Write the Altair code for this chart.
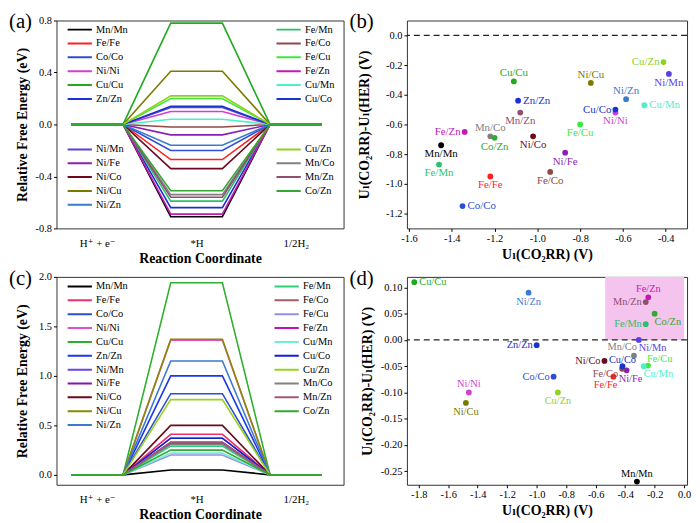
import json
import altair as alt
import pandas as pd

# ---------------- data ----------------
names = ["Mn/Mn", "Fe/Fe", "Co/Co", "Ni/Ni", "Cu/Cu", "Zn/Zn", "Ni/Mn", "Ni/Fe", "Ni/Co", "Ni/Cu", "Ni/Zn",
         "Fe/Mn", "Fe/Co", "Fe/Cu", "Fe/Zn", "Cu/Mn", "Cu/Co", "Cu/Zn", "Mn/Co", "Mn/Zn", "Co/Zn"]

colors_a = ["#000000", "#ff1f1f", "#2a4fd6", "#d23fd2", "#1faa1f", "#1c2fd0", "#5b3fe0", "#8a1fb8", "#6b0a1e",
            "#7a7a00", "#3a7ad0", "#2fbf6a", "#8f4848", "#3fe83f", "#c41ab0", "#4ff0c8", "#1a33cc", "#8fd21f",
            "#808080", "#8f4f6f", "#33a833"]
colors_c = ["#000000", "#f0306a", "#2a4fd6", "#e050c8", "#2fb02f", "#1c36f0", "#6a45e0", "#8a10b0", "#6b0a1e",
            "#8a8a00", "#3a7ad0", "#2fcf7a", "#a06060", "#9090e8", "#c010c0", "#6ff0d0", "#1020e0", "#9ad21f",
            "#808080", "#a05878", "#33a833"]

# (a) free energy of *H (eV)
dg_a = [-0.71, -0.27, -0.20, 0.10, 0.78, -0.64, 0.13, -0.08, -0.34, 0.41, -0.16,
        -0.59, -0.02, 0.20, -0.69, 0.04, 0.14, 0.22, -0.54, -0.56, -0.51]
# (c) free energy of *H (eV)
dg_c = [0.05, 0.41, 0.82, 1.36, 1.94, 1.00, 0.31, 0.33, 0.50, 1.37, 1.15,
        0.29, 0.37, 0.20, 0.32, 0.22, 0.37, 0.76, 0.31, 0.33, 0.25]

# (b) scatter
b_x = [-1.45, -1.22, -1.35, -0.635, -1.11, -1.09, -0.385, -0.87, -1.02, -0.75, -0.585,
       -1.46, -0.94, -0.80, -1.34, -0.50, -0.635, -0.41, -1.22, -1.08, -1.20]
b_y = [-0.74, -0.95, -1.15, -0.52, -0.31, -0.44, -0.26, -0.79, -0.68, -0.32, -0.43,
       -0.87, -0.92, -0.60, -0.65, -0.47, -0.50, -0.18, -0.68, -0.52, -0.69]

# (d) scatter
d_x = [-0.32, -0.48, -0.885, -1.46, -1.83, -1.00, -0.307, -0.39, -0.54, -1.48, -1.055,
       -0.26, -0.42, -0.245, -0.243, -0.274, -0.418, -0.856, -0.34, -0.26, -0.20]
d_y = [-0.27, -0.07, -0.07, -0.10, 0.11, -0.01, 0.0, -0.058, -0.04, -0.12, 0.09,
       0.03, -0.055, -0.049, 0.081, -0.05, -0.05, -0.10, -0.03, 0.072, 0.05]

stages = [1, 2, 3]
stage_labels = ["H⁺ + e⁻", "*H", "1/2H₂"]

a_ticks_y = [-0.8, -0.4, 0.0, 0.4, 0.8]
c_ticks_y = [0.0, 0.5, 1.0, 1.5, 2.0]
b_ticks_x = [-1.6, -1.4, -1.2, -1.0, -0.8, -0.6, -0.4]
b_ticks_y = [0.0, -0.2, -0.4, -0.6, -0.8, -1.0, -1.2]
d_ticks_x = [-1.8, -1.6, -1.4, -1.2, -1.0, -0.8, -0.6, -0.4, -0.2, 0.0]
d_ticks_y = [0.10, 0.05, 0.00, -0.05, -0.10, -0.15, -0.20, -0.25]

highlight_x = [-0.535, 0.0]
highlight_y = [0.0, 0.12]

b_place = {
    "above": ["Cu/Cu", "Mn/Co", "Ni/Cu", "Ni/Zn"],
    "below": ["Mn/Zn", "Co/Zn", "Mn/Mn", "Fe/Mn", "Fe/Fe", "Ni/Co", "Ni/Fe", "Fe/Co", "Fe/Cu", "Ni/Ni", "Ni/Mn"],
    "right": ["Zn/Zn", "Co/Co", "Cu/Mn"],
    "left": ["Fe/Zn", "Cu/Co", "Cu/Zn"],
}
d_place = {
    "above": ["Ni/Ni", "Mn/Mn", "Fe/Zn"],
    "abovelow": ["Cu/Co"],
    "below": ["Ni/Zn", "Ni/Cu", "Cu/Zn"],
    "left": ["Zn/Zn", "Co/Co", "Mn/Zn", "Fe/Mn", "Ni/Co"],
    "leftlow": ["Fe/Co"],
    "right": ["Cu/Cu"],
    "rightbelow": ["Co/Zn", "Ni/Mn", "Cu/Mn"],
    "below2": ["Ni/Fe"],
    "rightabove": ["Fe/Cu"],
    "aboveleft": ["Mn/Co"],
    "belowleft": ["Fe/Fe"],
}

# ---------------- style ----------------
FONT = "Times New Roman, Liberation Serif, DejaVu Serif, serif"
HALF = 0.26
offsets = {
    "above": (0, -8, "center"),
    "abovelow": (0, -6, "center"),
    "below": (0, 9, "center"),
    "below2": (4, 9, "center"),
    "right": (5, 0, "left"),
    "left": (-4, 0, "right"),
    "leftlow": (-4, 5, "right"),
    "rightbelow": (0, 8, "left"),
    "rightabove": (-1, -7, "left"),
    "aboveleft": (3, -9, "right"),
    "belowleft": (4, 8, "right"),
}
MINUS = "replace(datum.label, '\u2212', '-')"


def energy_rows(values):
    rows = []
    for n, g in zip(names, values):
        k = 0
        for s, yv in zip(stages, [0.0, g, 0.0]):
            for side in (-HALF, HALF):
                rows.append({"name": n, "x": s + side, "y": yv, "k": k})
                k += 1
    return pd.DataFrame(rows)


stage_expr = " : ".join(
    f"datum.value == {s} ? {json.dumps(l, ensure_ascii=False)}" for s, l in zip(stages[:-1], stage_labels[:-1])
) + " : " + json.dumps(stage_labels[-1], ensure_ascii=False)


def tag_layer(tag, x):
    return alt.Chart(pd.DataFrame({"t": [tag]})).mark_text(
        font=FONT, fontSize=21, align="left", baseline="top", color="black"
    ).encode(x=alt.value(x), y=alt.value(-9), text="t:N")


def energy_panel(values, colors, groups, ydom, yticks, fmt, tag):
    df = energy_rows(values)
    cmap = dict(zip(names, colors))
    x_enc = alt.X("x:Q", scale=alt.Scale(domain=[0.59, 3.48], nice=False, zero=False),
                  axis=alt.Axis(values=stages, labelExpr=stage_expr, ticks=False, tickSize=0,
                                labelPadding=9, labelFontSize=11, title="Reaction Coordinate",
                                titlePadding=3, titleFontSize=14))
    y_enc = alt.Y("y:Q", scale=alt.Scale(domain=ydom, nice=False, zero=False),
                  axis=alt.Axis(values=yticks, format=fmt, labelExpr=MINUS,
                                title="Relative Free Energy (eV)", minExtent=22, maxExtent=22,
                                titlePadding=5))
    layers = []
    for members, lx, ly in groups:
        sub = df[df["name"].isin(members)]
        layers.append(alt.Chart(sub).mark_line(strokeWidth=1.6).encode(
            x=x_enc, y=y_enc,
            color=alt.Color("name:N",
                            scale=alt.Scale(domain=members, range=[cmap[m] for m in members]),
                            legend=alt.Legend(orient="none", legendX=lx, legendY=ly, title=None,
                                              symbolType="stroke", symbolSize=600, symbolStrokeWidth=2,
                                              clipHeight=13.4, rowPadding=0, padding=0, labelOffset=3,
                                              labelFont=FONT, labelFontSize=10.5, labelColor="black",
                                              direction="vertical")),
            order="k:Q"))
    layers.append(tag_layer(tag, -48))
    return alt.layer(*layers).resolve_scale(color="independent").properties(width=290, height=210)


def scatter_panel(xs, ys, place, xdom, ydom, xticks, yticks, xfmt, yfmt, tag, ypad, yext, fsize,
                  highlight=False):
    df = pd.DataFrame({"name": names, "x": xs, "y": ys})
    posmap = {n: p for p, lst in place.items() for n in lst}
    df["pos"] = df["name"].map(posmap)
    x_enc = alt.X("x:Q", scale=alt.Scale(domain=xdom, nice=False, zero=False),
                  axis=alt.Axis(values=xticks, format=xfmt, labelExpr=MINUS, labelOverlap=False,
                                title="Uₗ(CO₂RR) (V)", titlePadding=4, titleFontSize=14))
    y_enc = alt.Y("y:Q", scale=alt.Scale(domain=ydom, nice=False, zero=False),
                  axis=alt.Axis(values=yticks, format=yfmt, labelExpr=MINUS, labelOverlap=False,
                                title="Uₗ(CO₂RR)-Uₗ(HER) (V)", minExtent=yext, maxExtent=yext,
                                titlePadding=ypad))
    cscale = alt.Scale(domain=names, range=colors_a)
    layers = []
    if highlight:
        hl = pd.DataFrame({"x": [highlight_x[0]], "x2": [highlight_x[1]],
                           "y": [highlight_y[0]], "y2": [highlight_y[1]]})
        layers.append(alt.Chart(hl).mark_rect(color="#f4c4ee").encode(
            x=x_enc, x2="x2:Q", y=y_enc, y2="y2:Q"))
    zero = pd.DataFrame({"y": [0.0]})
    layers.append(alt.Chart(zero).mark_rule(strokeDash=[6, 4], color="#222", strokeWidth=1.2).encode(
        y=y_enc))
    base = alt.Chart(df).encode(x=x_enc, y=y_enc, color=alt.Color("name:N", scale=cscale, legend=None))
    layers.append(base.mark_circle(size=34, opacity=1))
    for pos, (dx, dy, align) in offsets.items():
        if pos not in place:
            continue
        layers.append(base.transform_filter(alt.datum.pos == pos).mark_text(
            dx=dx, dy=dy, align=align, baseline="middle", font=FONT, fontSize=fsize
        ).encode(text="name:N"))
    layers.append(tag_layer(tag, -58))
    return alt.layer(*layers).properties(width=283, height=210)


pa = energy_panel(dg_a, colors_a,
                  [(names[0:6], 10, 2.5), (names[6:11], 10, 123.5),
                   (names[11:17], 221, 2.5), (names[17:21], 221, 123.5)],
                  [-0.8, 0.8], a_ticks_y, ".1f", "(a)")
pc = energy_panel(dg_c, colors_c,
                  [(names[0:11], 10, 3), (names[11:21], 219, 3)],
                  [-0.1, 2.0], c_ticks_y, ".1f", "(c)")
pb = scatter_panel(b_x, b_y, b_place, [-1.61, -0.3], [-1.3, 0.1], b_ticks_x, b_ticks_y, ".1f", ".1f",
                   "(b)", 14, 22, 11)
pdd = scatter_panel(d_x, d_y, d_place, [-1.88, 0.02], [-0.276, 0.12], d_ticks_x, d_ticks_y, ".1f", ".2f",
                    "(d)", 6, 27, 10.5, highlight=True)

chart = alt.concat(pa, pb, pc, pdd, columns=2, spacing={"row": 49, "column": 64}, bounds="flush").properties(
    padding={"left": 0, "top": 0, "right": 0, "bottom": 0}
).configure_view(stroke="#333", strokeWidth=1).configure_axis(
    labelFont=FONT, titleFont=FONT, labelColor="black", titleColor="black", tickColor="black",
    tickSize=3, labelFontSize=10.5, titleFontSize=14, titleFontWeight="bold", domain=False, grid=False,
    labelOverlap=False
)

chart.save("out.html", embed_options={"renderer": "svg", "actions": False})
